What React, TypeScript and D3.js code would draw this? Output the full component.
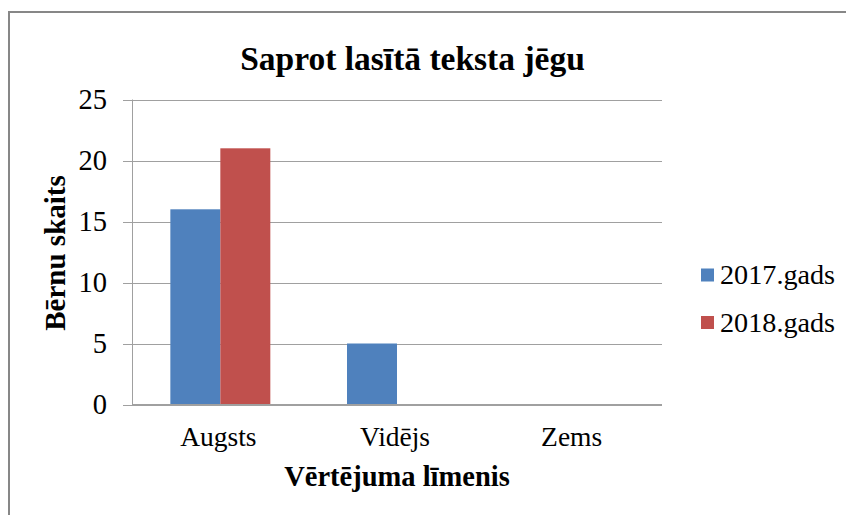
import React from "react";
import * as d3 from "d3";

const categories = ["Augsts", "Vidējs", "Zems"];
const seriesNames = ["2017.gads", "2018.gads"];
const values2017 = [16, 5, 0];
const values2018 = [21, 0, 0];
const yTicks = [0, 5, 10, 15, 20, 25];
const colors = ["#4F81BD", "#C0504D"];
const title = "Saprot lasītā teksta jēgu";
const yTitle = "Bērnu skaits";
const xTitle = "Vērtējuma līmenis";

const W = 846;
const H = 515;
const FONT = "'Liberation Serif', 'Times New Roman', serif";

export default function App() {
  const left = 132;
  const right = 662;
  const top = 99.5;
  const bottom = 404.5;

  const y = d3.scaleLinear().domain([0, 25]).range([bottom, top]);
  const x0 = d3.scaleBand<string>().domain(categories).range([left, right]).padding(0);
  const x1 = d3
    .scaleBand<string>()
    .domain(seriesNames)
    .range([0, x0.bandwidth()])
    .paddingInner(0)
    .paddingOuter(0.767);

  const seriesValues = [values2017, values2018];

  return (
    <svg
      width={W}
      height={H}
      style={{ position: "absolute", left: 0, top: 0, background: "#fff" }}
      fontFamily={FONT}
    >
      <rect x={0} y={0} width={W} height={H} fill="#fff" />
      <rect x={9} y={12} width={W + 10} height={H + 10} fill="none" stroke="#878787" strokeWidth={2} />

      <text x={412.5} y={70} textAnchor="middle" fontSize={33.5} fontWeight="bold" fill="#000">
        {title}
      </text>

      {yTicks.map((t) => (
        <g key={t}>
          <line x1={123} x2={right} y1={Math.round(y(t)) + 0.5} y2={Math.round(y(t)) + 0.5} stroke="#a0a0a0" strokeWidth={1} />
          <text x={107} y={y(t) + 9.8} textAnchor="end" fontSize={28.5} fill="#000">
            {t}
          </text>
        </g>
      ))}
      <line x1={left + 0.5} x2={left + 0.5} y1={top} y2={bottom} stroke="#a0a0a0" strokeWidth={1} />

      {categories.map((c, ci) =>
        seriesNames.map((s, si) => {
          const v = seriesValues[si][ci];
          const bx = (x0(c) as number) + (x1(s) as number);
          return (
            <rect
              key={c + s}
              x={bx}
              y={y(v)}
              width={x1.bandwidth()}
              height={bottom - y(v)}
              fill={colors[si]}
            />
          );
        })
      )}
      <line x1={left} x2={right} y1={bottom} y2={bottom} stroke="#a0a0a0" strokeWidth={1} />

      {categories.map((c) => (
        <text
          key={c}
          x={(x0(c) as number) + x0.bandwidth() / 2 - 2}
          y={445.5}
          textAnchor="middle"
          fontSize={27.5}
          fill="#000"
        >
          {c}
        </text>
      ))}

      <text x={(left + right) / 2} y={485.5} textAnchor="middle" fontSize={28.5} fontWeight="bold" fill="#000">
        {xTitle}
      </text>
      <text
        transform={`translate(65,253) rotate(-90)`}
        textAnchor="middle"
        fontSize={29}
        fontWeight="bold"
        fill="#000"
      >
        {yTitle}
      </text>

      {seriesNames.map((s, i) => (
        <g key={s} transform={`translate(701,${268.5 + i * 47.5})`}>
          <rect x={0} y={0} width={13} height={13} fill={colors[i]} />
          <text x={19} y={15.5} fontSize={28.2} fill="#000">
            {s}
          </text>
        </g>
      ))}
    </svg>
  );
}
